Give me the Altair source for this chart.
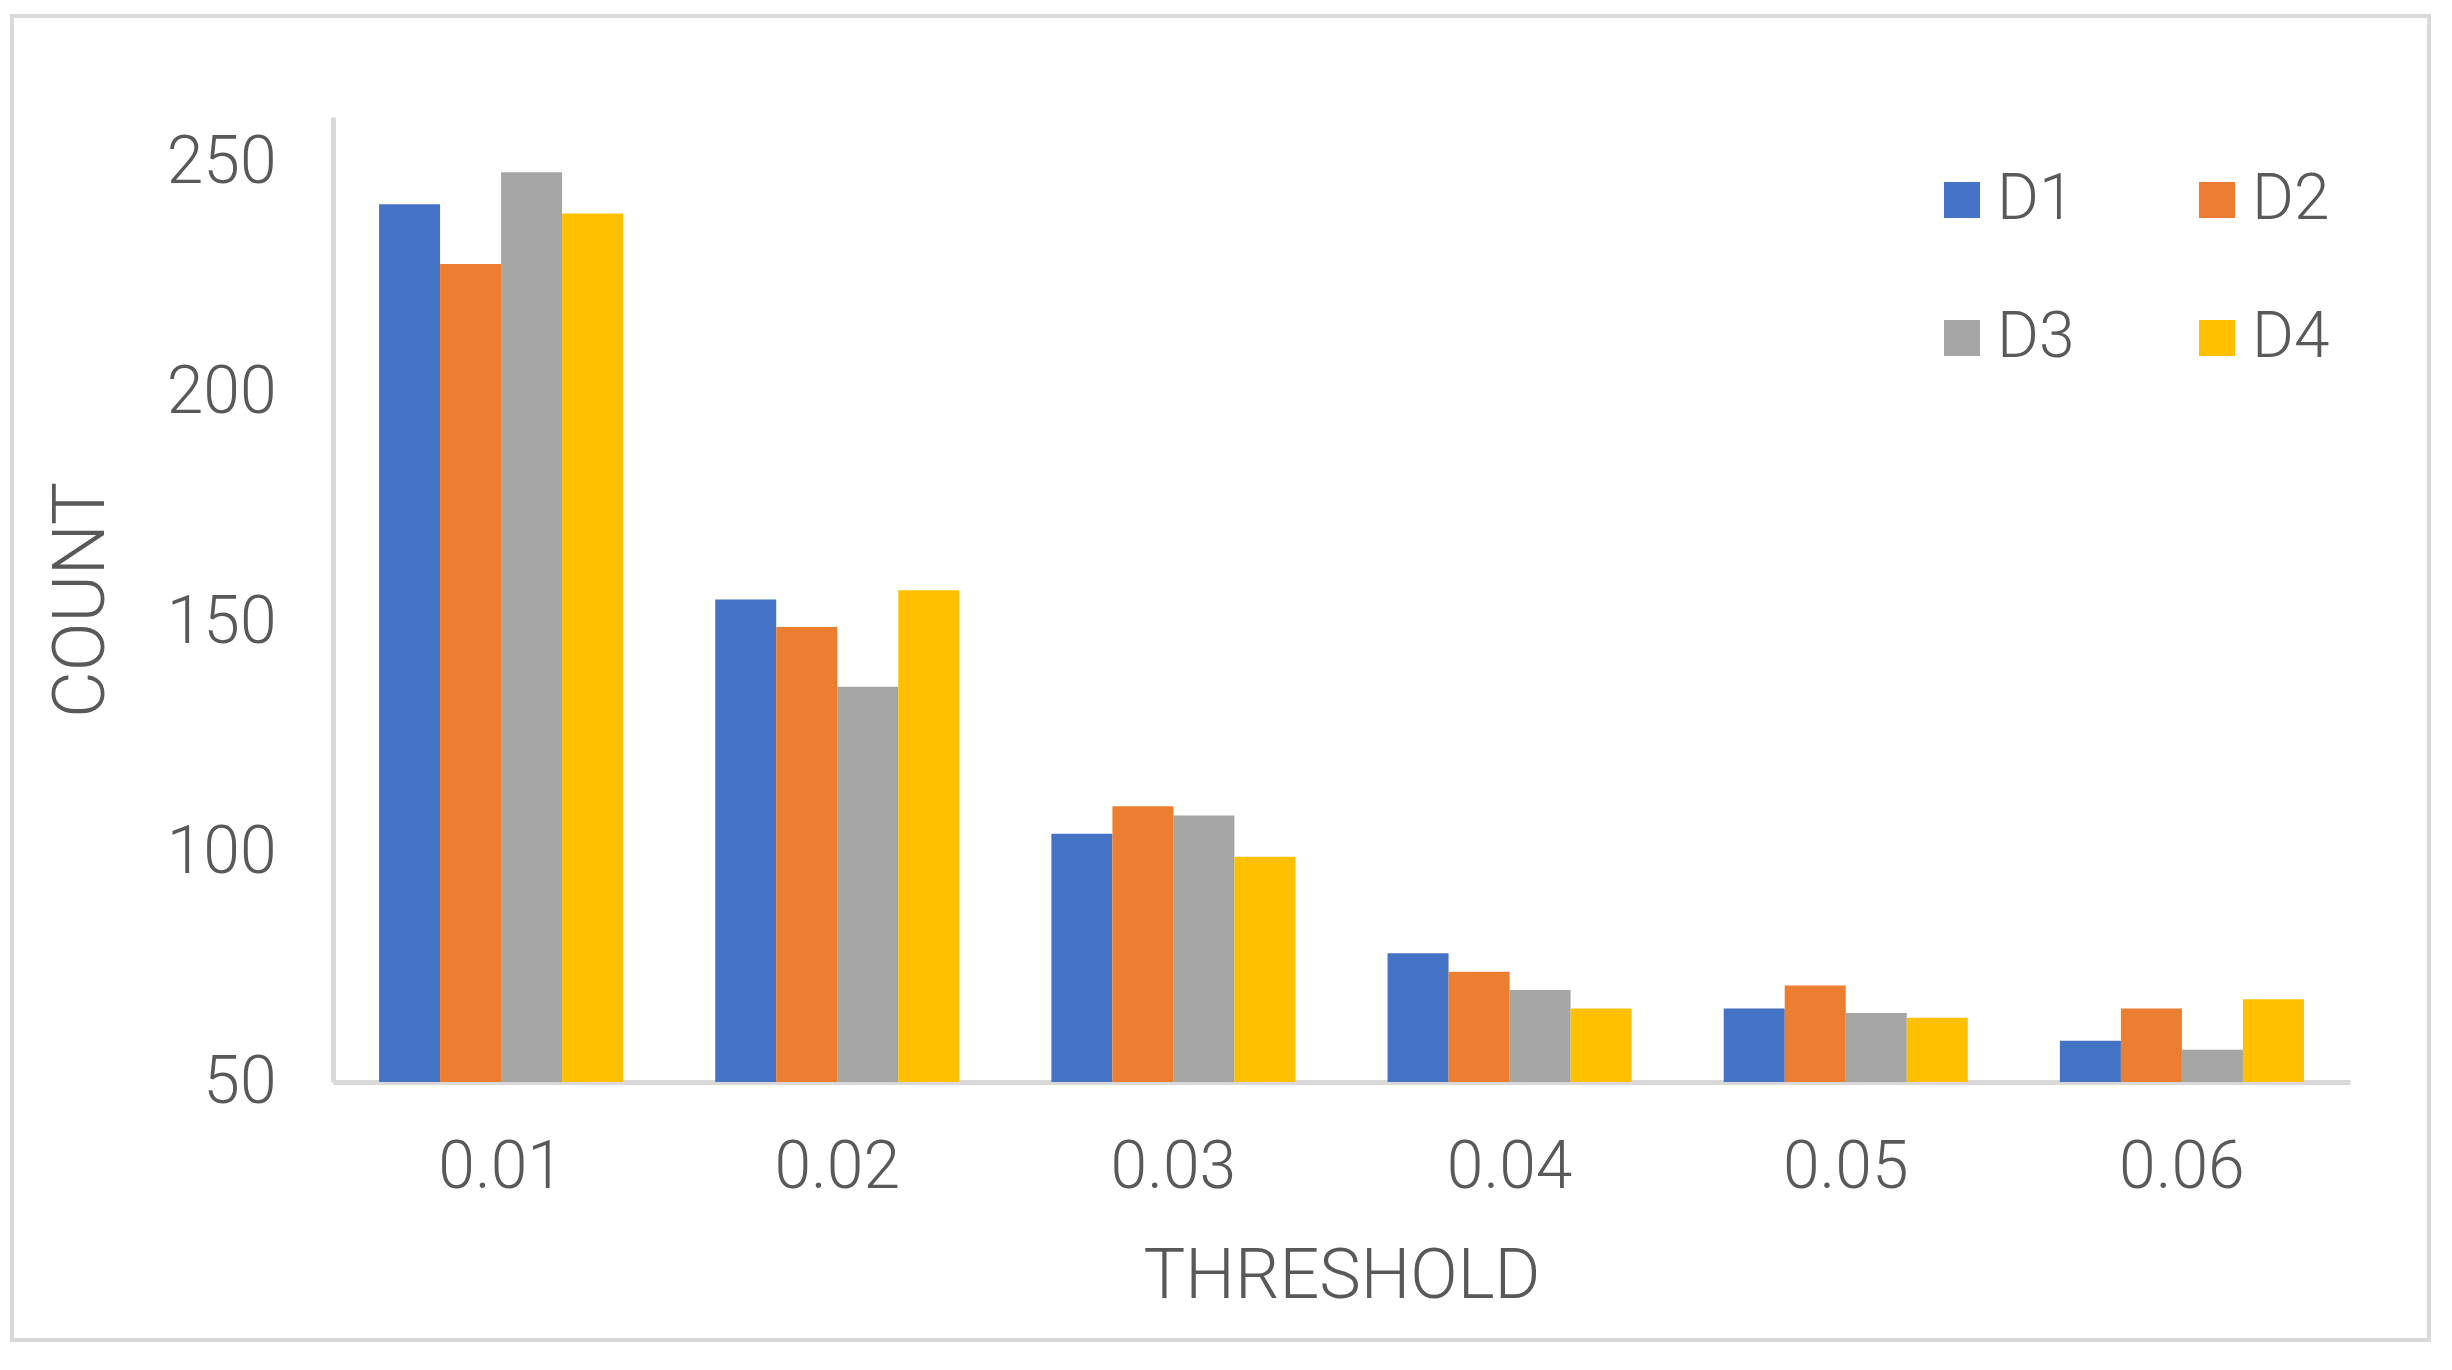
import altair as alt
import pandas as pd

thresholds = ["0.01", "0.02", "0.03", "0.04", "0.05", "0.06"]
series = ["D1", "D2", "D3", "D4"]
d1 = [241, 155, 104, 78, 66, 59]
d2 = [228, 149, 110, 74, 71, 66]
d3 = [248, 136, 108, 70, 65, 57]
d4 = [239, 157, 99, 66, 64, 68]
colors = ["#4472C4", "#ED7D31", "#A5A5A5", "#FFC000"]
y_ticks = [50, 100, 150, 200, 250]
y_domain = [50, 260]

rows = []
for s, vals in zip(series, [d1, d2, d3, d4]):
    for t, v in zip(thresholds, vals):
        rows.append({"threshold": t, "series": s, "count": v})
df = pd.DataFrame(rows)

FONT = "Roboto"
TEXT = "#595959"
LINE = "#D9D9D9"
W, H = 2017, 965

bars = alt.Chart(df).mark_bar().encode(
    x=alt.X(
        "threshold:N",
        sort=thresholds,
        scale=alt.Scale(paddingInner=0.274, paddingOuter=0.137),
        axis=alt.Axis(
            title="THRESHOLD", labelAngle=0, labelFont=FONT, labelFontSize=66,
            labelFontWeight=300, labelColor=TEXT, labelPadding=53, ticks=False,
            domainColor=LINE, domainWidth=5, titleFont=FONT, titleFontSize=70,
            titleFontWeight=300, titleColor=TEXT, titleX=W / 2, titleY=194,
            titleBaseline="middle", titleAlign="center",
        ),
    ),
    xOffset=alt.XOffset("series:N", sort=series, scale=alt.Scale(paddingInner=0, paddingOuter=0)),
    y=alt.Y(
        "count:Q",
        scale=alt.Scale(domain=y_domain, zero=False, nice=False),
        axis=alt.Axis(
            title="COUNT", values=y_ticks, grid=False, ticks=False, labelFont=FONT,
            labelFontSize=66, labelFontWeight=300, labelColor=TEXT, labelPadding=57,
            domainColor=LINE, domainWidth=5, titleFont=FONT, titleFontSize=72,
            titleFontWeight=300, titleColor=TEXT, titleX=-252, titleY=H / 2,
            titleAngle=270, titleBaseline="middle", titleAlign="center",
        ),
    ),
    y2=alt.datum(50),
    color=alt.Color(
        "series:N",
        sort=series,
        scale=alt.Scale(domain=series, range=colors),
        legend=alt.Legend(
            title=None, orient="none", legendX=1597, legendY=51, columns=2,
            direction="horizontal",
            symbolType="square", symbolSize=1296, symbolStrokeWidth=0,
            labelFont=FONT, labelFontSize=64, labelFontWeight=300, labelColor=TEXT,
            labelOffset=3, columnPadding=110, rowPadding=74, padding=0,
        ),
    ),
)

border = alt.Chart(pd.DataFrame({"a": [0]})).mark_rect(
    fillOpacity=0, stroke=LINE, strokeWidth=4
).encode(
    x=alt.value(-321), x2=alt.value(2096), y=alt.value(-101), y2=alt.value(1223)
)

chart = alt.layer(border, bars).properties(
    width=W, height=H,
    autosize=alt.AutoSizeParams(type="none"),
    padding={"left": 325, "top": 109, "right": 94, "bottom": 270},
    background="white",
).configure_view(stroke=None)

chart.save("out.html", embed_options={"renderer": "svg", "actions": False})
